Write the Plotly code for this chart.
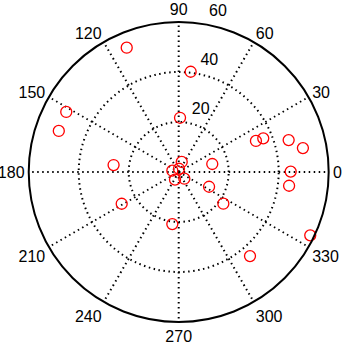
import plotly.graph_objects as go

r_vals = [53.9, 40.4, 21.7, 51.0, 50.7, 33.3, 36.4, 45.8, 50.6, 26.2, 13.8, 44.8,
          44.5, 58.4, 44.1, 13.5, 21.9, 26.1, 21.0, 4.2, 2.6, 1.3, 3.4, 3.5]
theta_vals = [112.7, 83.2, 88.6, 151.9, 161.1, 21.9, 21.7, 16.2, 10.9, 173.9, 13.4, 0.2,
              352.9, 334.3, 310.3, 334.1, 324.6, 209.1, 263.0, 73.3, 168.5, 85, 244.3, 310]
radial_ticks = [20, 40, 60]
angle_ticks = list(range(0, 360, 30))

fig = go.Figure()
fig.add_trace(go.Scatterpolar(
    r=r_vals, theta=theta_vals, mode="markers",
    marker=dict(symbol="circle-open", size=11, color="red", line=dict(width=1.3, color="red")),
    showlegend=False, hoverinfo="skip"))

# radial tick labels, MATLAB style (placed beside each ring)
fig.add_trace(go.Scatterpolar(
    r=radial_ticks, theta=[80] * len(radial_ticks), mode="markers+text",
    text=[str(v) for v in radial_ticks], textposition="top right",
    textfont=dict(size=16, color="black"),
    marker=dict(size=5.4, opacity=0), cliponaxis=False,
    showlegend=False, hoverinfo="skip"))

dotted = "1.5px,3.5px"
fig.update_layout(
    width=347, height=344,
    margin=dict(l=0, r=0, t=0, b=0),
    paper_bgcolor="white",
    font=dict(family="Liberation Sans, Arial, sans-serif", size=16, color="black"),
    polar=dict(
        domain=dict(x=[0.0827, 0.9473], y=[0.064, 0.936]),
        bgcolor="white",
        radialaxis=dict(range=[0, 60], tickvals=radial_ticks, showticklabels=False,
                        showline=False, ticks="", showgrid=True,
                        gridcolor="black", griddash=dotted, gridwidth=1.5),
        angularaxis=dict(rotation=0, direction="counterclockwise",
                         tickvals=angle_ticks, ticktext=[str(a) for a in angle_ticks],
                         showline=True, linecolor="black", linewidth=2,
                         ticks="",
                         showgrid=True, gridcolor="black", griddash=dotted, gridwidth=1.5,
                         tickfont=dict(size=16)),
    ),
)
fig.write_html("out.html", config={"displayModeBar": False},
               post_script="document.body.style.margin='0';document.body.style.overflow='hidden';")
